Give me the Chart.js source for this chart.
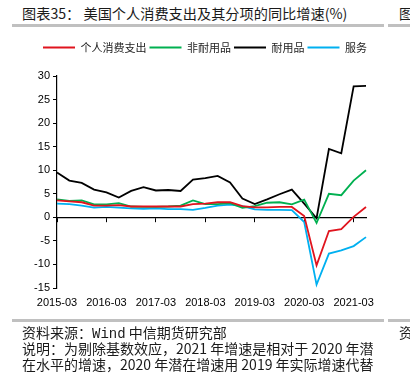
<!DOCTYPE html>
<html><head><meta charset="utf-8">
<script src="https://cdn.jsdelivr.net/npm/chart.js@4"></script>
<style>
html,body{margin:0;padding:0;width:410px;height:378px;overflow:hidden;background:#fff;}
body{position:relative;font-family:"Liberation Sans","Noto Sans CJK SC",sans-serif;color:#1a1a1a;}
.t{position:absolute;white-space:nowrap;font-family:"Noto Sans CJK SC","Liberation Sans",sans-serif;}
#title{left:22px;top:3px;font-size:14.2px;}
.rule{position:absolute;height:3px;background:#c0c0c0;}
.note{font-size:14px;}
#wrap{position:absolute;left:0;top:0;width:410px;height:378px;}
.mono{font-family:"Liberation Mono","DejaVu Sans Mono",monospace;}
</style></head>
<body>
<div class="t" id="title">图表35： 美国个人消费支出及其分项的同比增速(%)</div>
<div class="t" style="left:399px;top:3px;font-size:14px;">图</div>
<div class="rule" style="left:12px;top:24px;width:372px;"></div>
<div class="rule" style="left:388px;top:24px;width:30px;"></div>
<div id="wrap"><canvas id="c" width="410" height="378"></canvas></div>
<div class="rule" style="left:12px;top:319px;width:372px;"></div>
<div class="rule" style="left:388px;top:319px;width:30px;"></div>
<div class="t note" style="left:22px;top:322px;">资料来源：<span class="mono">Wind</span> 中信期货研究部</div>
<div class="t note" style="left:399px;top:322px;">资</div>
<div class="t note" style="left:22px;top:338px;">说明：为剔除基数效应，2021 年增速是相对于 2020 年潜</div>
<div class="t note" style="left:22px;top:354px;">在水平的增速，2020 年潜在增速用 2019 年实际增速代替</div>
<script>
const categories = ["2015-03","2015-06","2015-09","2015-12","2016-03","2016-06","2016-09","2016-12","2017-03","2017-06","2017-09","2017-12","2018-03","2018-06","2018-09","2018-12","2019-03","2019-06","2019-09","2019-12","2020-03","2020-06","2020-09","2020-12","2021-03","2021-06"];
const pce        = [3.6,3.4,3.2,2.5,2.5,2.6,2.3,2.3,2.3,2.3,2.3,2.8,2.9,3.2,3.2,2.4,2.1,2.1,2.2,2.2,0.3,-10.2,-2.9,-2.5,0.1,2.2];
const nondurable = [3.8,3.5,3.6,2.75,2.75,3.0,2.3,2.2,2.2,2.3,2.5,3.6,2.8,2.8,3.0,2.0,2.4,3.1,3.2,2.75,3.75,-1.2,5.0,4.7,7.8,10.0];
const durable    = [9.5,7.8,7.3,5.9,5.3,4.2,5.6,6.4,5.7,5.8,5.6,8.0,8.3,8.8,7.4,4.0,2.8,3.8,4.9,5.9,2.9,-0.2,14.5,13.6,27.8,27.9];
const services   = [2.9,2.8,2.5,2.05,2.2,2.05,1.9,1.8,1.9,1.75,1.75,1.6,2.0,2.5,2.7,2.4,1.7,1.6,1.6,1.55,-1.0,-14.3,-7.7,-7.0,-6.1,-4.2];
const seriesNames = ["个人消费支出","非耐用品","耐用品","服务"];
const yTicks = [30,25,20,15,10,5,0,-5,-10,-15];

const colors = ["#e0141e","#00b050","#000000","#00b0f0"];
const allData = [pce, nondurable, durable, services];
const yearLabel = (v) => categories[v].endsWith("-03") ? categories[v] : null;

const legendSpace = {
  id: "legendSpace",
  beforeInit(chart) {
    const origFit = chart.legend.fit;
    chart.legend.fit = function () { origFit.call(this); this.height += 13; };
  }
};

new Chart(document.getElementById("c"), {
  type: "line",
  plugins: [legendSpace],
  data: {
    labels: categories,
    datasets: allData.map((d, i) => ({
      label: seriesNames[i], data: d, borderColor: colors[i], backgroundColor: colors[i],
      borderWidth: 1.8, pointRadius: 0, tension: 0, fill: false
    }))
  },
  options: {
    responsive: false, animation: false, devicePixelRatio: 1,
    layout: { padding: { top: 39, left: 0, right: 0, bottom: 60 } },
    plugins: {
      tooltip: { enabled: false },
      legend: {
        position: "top",
        labels: {
          usePointStyle: true, pointStyle: "line", pointStyleWidth: 32, boxWidth: 32, boxHeight: 11,
          padding: 3, color: "#222",
          font: { size: 11, family: "'Noto Sans CJK SC','Liberation Sans',sans-serif" }
        }
      }
    },
    scales: {
      x: {
        type: "category", position: "bottom",
        grid: { display: false, drawTicks: false },
        border: { display: false },
        ticks: { autoSkip: false, maxRotation: 0, minRotation: 0, padding: 8, color: "#000",
          font: { size: 11, family: "'Liberation Sans',sans-serif" },
          callback: (v) => yearLabel(v) },
        afterFit: (s) => { s.height = 30; }
      },
      x2: {
        type: "category", position: { y: 0 },
        grid: { display: true, drawOnChartArea: false, drawTicks: true, tickLength: 4, color: "#000", lineWidth: 1 },
        border: { display: true, color: "#000", width: 1.2 },
        ticks: { autoSkip: false, maxRotation: 0, padding: 0, font: { size: 1 },
          callback: (v) => yearLabel(v) === null ? null : "" }
      },
      y: {
        type: "linear", position: "left", min: -15, max: 30,
        afterBuildTicks: (s) => { s.ticks = yTicks.map(v => ({ value: v })); },
        grid: { display: true, drawOnChartArea: false, drawTicks: true, tickLength: 4, color: "#000" },
        border: { display: true, color: "#000", width: 1.2 },
        ticks: { padding: 3, color: "#000", font: { size: 11, family: "'Liberation Sans',sans-serif" } },
        afterFit: (s) => { s.width = 57; }
      },
      yR: {
        type: "linear", position: "right", min: -15, max: 30,
        grid: { display: false, drawTicks: false },
        border: { display: false },
        ticks: { display: false },
        afterFit: (s) => { s.width = 44; }
      }
    }
  }
});
</script>
</body></html>
